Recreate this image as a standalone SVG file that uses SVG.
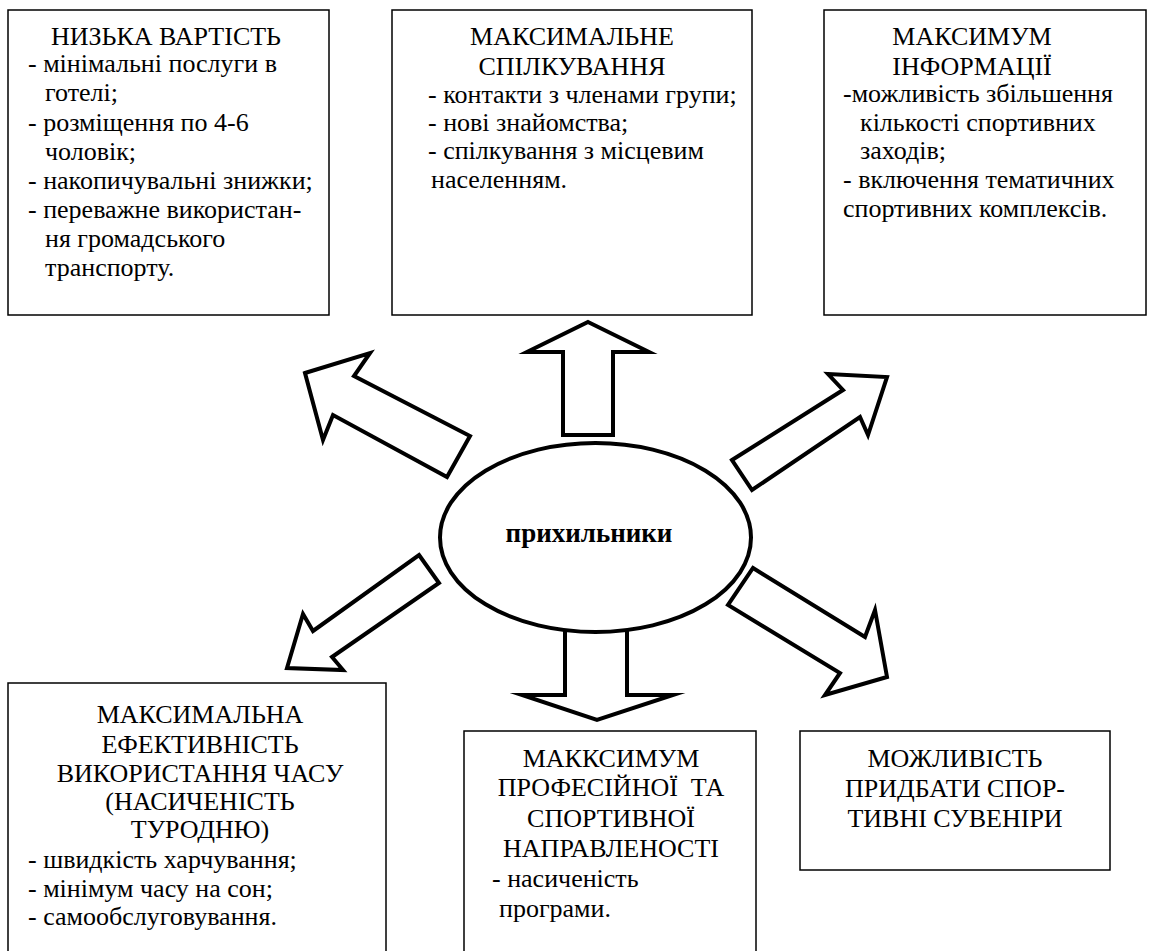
<svg xmlns="http://www.w3.org/2000/svg" width="1151" height="951" viewBox="0 0 1151 951">
<style>
.box{fill:#fff;stroke:#000;stroke-width:1.5}
.t{font-family:"Liberation Serif","Times New Roman",serif;font-size:26px;fill:#000}
.c{text-anchor:middle}
.arr{fill:#fff;stroke:#000;stroke-width:4;stroke-linejoin:miter;stroke-miterlimit:10}
.ell{fill:#fff;stroke:#000;stroke-width:4}
.b{font-family:"Liberation Serif","Times New Roman",serif;font-size:27px;font-weight:bold;fill:#000;text-anchor:middle}
</style>
<rect width="1151" height="951" fill="#fff"/>
<g id="connectors">
<polygon class="arr" points="588,322 649,352 613,352 613,435 563,435 563,352 527,352"/>
<polygon class="arr" points="565,628 627,628 627,695 673,695 597,720 522,695 565,695"/>
<polygon class="arr" points="305,373 370,353 354,376 470,436 447,477 333,415 323,440"/>
<polygon class="arr" points="732,460 843,390 828,374 887,377 868,435 860,417 752,490"/>
<polygon class="arr" points="419,555 439,583 332,657 343,670 287,668 303,614 313,631"/>
<polygon class="arr" points="753,568 865,637 875,610 887,677 825,695 840,673 728,605"/>
</g>
<g id="center">
<ellipse class="ell" cx="595.5" cy="537.5" rx="155.5" ry="94.5"/>
<text class="b" x="589" y="542">прихильники</text>
</g>
<g id="box1">
<rect class="box" x="8" y="10" width="321" height="305"/>
<text class="t c" x="166" y="45">НИЗЬКА ВАРТІСТЬ</text>
<text class="t" x="28" y="72">- мінімальні послуги в</text>
<text class="t" x="45" y="101">готелі;</text>
<text class="t" x="28" y="131">- розміщення по 4-6</text>
<text class="t" x="45" y="160">чоловік;</text>
<text class="t" x="28" y="189">- накопичувальні знижки;</text>
<text class="t" x="28" y="218">- переважне використан-</text>
<text class="t" x="45" y="247">ня громадського</text>
<text class="t" x="45" y="276">транспорту.</text>
</g>
<g id="box2">
<rect class="box" x="392" y="10" width="360" height="305"/>
<text class="t c" x="572" y="45">МАКСИМАЛЬНЕ</text>
<text class="t c" x="572" y="75">СПІЛКУВАННЯ</text>
<text class="t" x="428" y="103">- контакти з членами групи;</text>
<text class="t" x="428" y="131">- нові знайомства;</text>
<text class="t" x="428" y="159">- спілкування з місцевим</text>
<text class="t" x="431" y="188">населенням.</text>
</g>
<g id="box3">
<rect class="box" x="824" y="10" width="322" height="305"/>
<text class="t c" x="972" y="45">МАКСИМУМ</text>
<text class="t c" x="972" y="75">ІНФОРМАЦІЇ</text>
<text class="t" x="843" y="102">-можливість збільшення</text>
<text class="t" x="860" y="131">кількості спортивних</text>
<text class="t" x="860" y="159">заходів;</text>
<text class="t" x="843" y="188">- включення тематичних</text>
<text class="t" x="843" y="217">спортивних комплексів.</text>
</g>
<g id="box4">
<rect class="box" x="8" y="683" width="378" height="290"/>
<text class="t c" x="200" y="723">МАКСИМАЛЬНА</text>
<text class="t c" x="200" y="753">ЕФЕКТИВНІСТЬ</text>
<text class="t c" x="200" y="782">ВИКОРИСТАННЯ ЧАСУ</text>
<text class="t c" x="200" y="810">(НАСИЧЕНІСТЬ</text>
<text class="t c" x="200" y="838">ТУРОДНЮ)</text>
<text class="t" x="28" y="868">- швидкість харчування;</text>
<text class="t" x="28" y="897">- мінімум часу на сон;</text>
<text class="t" x="28" y="925">- самообслуговування.</text>
</g>
<g id="box5">
<rect class="box" x="464" y="731" width="292" height="240"/>
<text class="t c" x="611" y="767">МАККСИМУМ</text>
<text class="t c" x="611" y="796" xml:space="preserve">ПРОФЕСІЙНОЇ  ТА</text>
<text class="t c" x="611" y="827">СПОРТИВНОЇ</text>
<text class="t c" x="611" y="857">НАПРАВЛЕНОСТІ</text>
<text class="t" x="492" y="887">- насиченість</text>
<text class="t" x="499" y="917">програми.</text>
</g>
<g id="box6">
<rect class="box" x="800" y="731" width="310" height="139"/>
<text class="t c" x="955" y="767">МОЖЛИВІСТЬ</text>
<text class="t c" x="955" y="797">ПРИДБАТИ СПОР-</text>
<text class="t c" x="955" y="827">ТИВНІ СУВЕНІРИ</text>
</g>
</svg>
